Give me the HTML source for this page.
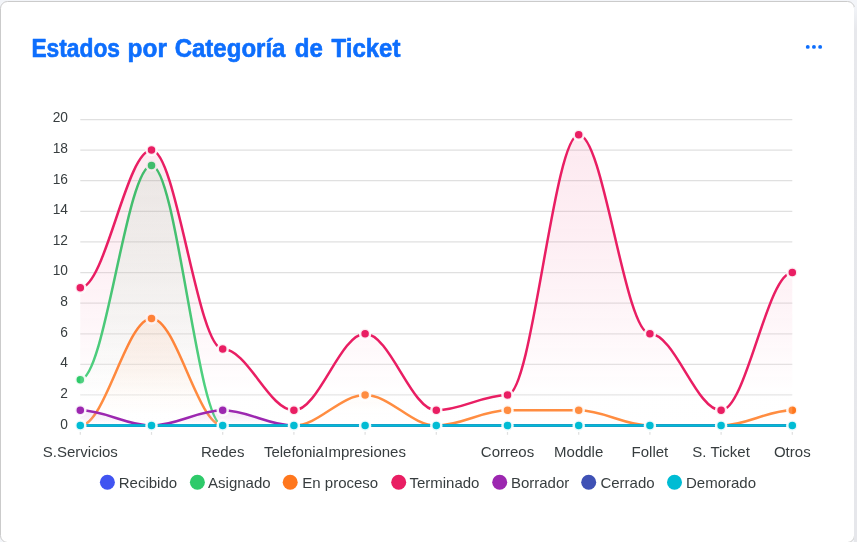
<!DOCTYPE html>
<html lang="es"><head><meta charset="utf-8"><title>Estados por Categoría de Ticket</title>
<style>
html,body{margin:0;padding:0;}
body{width:857px;height:542px;overflow:hidden;position:relative;background:#f3f5f9;font-family:"Liberation Sans",Arial,sans-serif;}
.rs{position:absolute;left:853.7px;top:7px;width:3.3px;height:535px;background:linear-gradient(#f1f3f7 0px,#e7e8ec 22px,#e6e7eb 100%);}
.card{position:absolute;left:0;top:0.9px;width:855px;height:542.6px;box-sizing:border-box;background:#fff;
border:1.25px solid #cbcbcb;border-radius:7.5px;}
</style></head><body>
<div class="card"></div>
<div class="rs"></div>
<svg width="857" height="542" viewBox="0 0 857 542" style="position:absolute;left:0;top:0;will-change:transform;font-family:'Liberation Sans',Arial,sans-serif"><defs><linearGradient id="g0" x1="0" y1="0" x2="0" y2="1"><stop offset="0" stop-color="rgba(65,84,241,0.3)" stop-opacity="0.3"/><stop offset="0.9" stop-color="rgba(255,255,255,0.4)" stop-opacity="0.4"/><stop offset="1" stop-color="rgba(255,255,255,0.4)" stop-opacity="0.4"/></linearGradient><linearGradient id="g1" x1="0" y1="0" x2="0" y2="1"><stop offset="0" stop-color="rgba(46,202,106,0.3)" stop-opacity="0.3"/><stop offset="0.9" stop-color="rgba(255,255,255,0.4)" stop-opacity="0.4"/><stop offset="1" stop-color="rgba(255,255,255,0.4)" stop-opacity="0.4"/></linearGradient><linearGradient id="g2" x1="0" y1="0" x2="0" y2="1"><stop offset="0" stop-color="rgba(255,119,29,0.3)" stop-opacity="0.3"/><stop offset="0.9" stop-color="rgba(255,255,255,0.4)" stop-opacity="0.4"/><stop offset="1" stop-color="rgba(255,255,255,0.4)" stop-opacity="0.4"/></linearGradient><linearGradient id="g3" x1="0" y1="0" x2="0" y2="1"><stop offset="0" stop-color="rgba(233,30,99,0.3)" stop-opacity="0.3"/><stop offset="0.9" stop-color="rgba(255,255,255,0.4)" stop-opacity="0.4"/><stop offset="1" stop-color="rgba(255,255,255,0.4)" stop-opacity="0.4"/></linearGradient><linearGradient id="g4" x1="0" y1="0" x2="0" y2="1"><stop offset="0" stop-color="rgba(156,39,176,0.3)" stop-opacity="0.3"/><stop offset="0.9" stop-color="rgba(255,255,255,0.4)" stop-opacity="0.4"/><stop offset="1" stop-color="rgba(255,255,255,0.4)" stop-opacity="0.4"/></linearGradient><linearGradient id="g5" x1="0" y1="0" x2="0" y2="1"><stop offset="0" stop-color="rgba(63,81,181,0.3)" stop-opacity="0.3"/><stop offset="0.9" stop-color="rgba(255,255,255,0.4)" stop-opacity="0.4"/><stop offset="1" stop-color="rgba(255,255,255,0.4)" stop-opacity="0.4"/></linearGradient><linearGradient id="g6" x1="0" y1="0" x2="0" y2="1"><stop offset="0" stop-color="rgba(0,188,212,0.3)" stop-opacity="0.3"/><stop offset="0.9" stop-color="rgba(255,255,255,0.4)" stop-opacity="0.4"/><stop offset="1" stop-color="rgba(255,255,255,0.4)" stop-opacity="0.4"/></linearGradient></defs><g stroke="#e0e0e0" stroke-width="1.25"><line x1="80.3" y1="425.6" x2="792.3" y2="425.6"/><line x1="80.3" y1="394.99" x2="792.3" y2="394.99"/><line x1="80.3" y1="364.38" x2="792.3" y2="364.38"/><line x1="80.3" y1="333.77" x2="792.3" y2="333.77"/><line x1="80.3" y1="303.16" x2="792.3" y2="303.16"/><line x1="80.3" y1="272.55" x2="792.3" y2="272.55"/><line x1="80.3" y1="241.94" x2="792.3" y2="241.94"/><line x1="80.3" y1="211.33" x2="792.3" y2="211.33"/><line x1="80.3" y1="180.72" x2="792.3" y2="180.72"/><line x1="80.3" y1="150.11" x2="792.3" y2="150.11"/><line x1="80.3" y1="119.5" x2="792.3" y2="119.5"/></g><g stroke="#e0e0e0" stroke-width="1.25"><line x1="80.3" y1="426.1" x2="80.3" y2="434.8"/><line x1="151.5" y1="426.1" x2="151.5" y2="434.8"/><line x1="222.7" y1="426.1" x2="222.7" y2="434.8"/><line x1="293.9" y1="426.1" x2="293.9" y2="434.8"/><line x1="365.1" y1="426.1" x2="365.1" y2="434.8"/><line x1="436.3" y1="426.1" x2="436.3" y2="434.8"/><line x1="507.5" y1="426.1" x2="507.5" y2="434.8"/><line x1="578.7" y1="426.1" x2="578.7" y2="434.8"/><line x1="649.9" y1="426.1" x2="649.9" y2="434.8"/><line x1="721.1" y1="426.1" x2="721.1" y2="434.8"/><line x1="792.3" y1="426.1" x2="792.3" y2="434.8"/></g><g><path d="M 80.3 425.6 C 105.22 425.6 126.58 425.6 151.5 425.6 C 176.42 425.6 197.78 425.6 222.7 425.6 C 247.62 425.6 268.98 425.6 293.9 425.6 C 318.82 425.6 340.18 425.6 365.1 425.6 C 390.02 425.6 411.38 425.6 436.3 425.6 C 461.22 425.6 482.58 425.6 507.5 425.6 C 532.42 425.6 553.78 425.6 578.7 425.6 C 603.62 425.6 624.98 425.6 649.9 425.6 C 674.82 425.6 696.18 425.6 721.1 425.6 C 746.02 425.6 767.38 425.6 792.3 425.6" fill="none" stroke="#4154f1" stroke-width="2.5"/><g fill="#4154f1" stroke="#fff" stroke-opacity="0.9" stroke-width="2.5"><circle cx="80.3" cy="425.6" r="5.0"/><circle cx="151.5" cy="425.6" r="5.0"/><circle cx="222.7" cy="425.6" r="5.0"/><circle cx="293.9" cy="425.6" r="5.0"/><circle cx="365.1" cy="425.6" r="5.0"/><circle cx="436.3" cy="425.6" r="5.0"/><circle cx="507.5" cy="425.6" r="5.0"/><circle cx="578.7" cy="425.6" r="5.0"/><circle cx="649.9" cy="425.6" r="5.0"/><circle cx="721.1" cy="425.6" r="5.0"/><circle cx="792.3" cy="425.6" r="5.0"/></g></g><g><path d="M 80.3 379.69 C 105.22 379.69 126.58 165.42 151.5 165.42 C 176.42 165.42 197.78 425.6 222.7 425.6 C 247.62 425.6 268.98 425.6 293.9 425.6 C 318.82 425.6 340.18 425.6 365.1 425.6 C 390.02 425.6 411.38 425.6 436.3 425.6 C 461.22 425.6 482.58 425.6 507.5 425.6 C 532.42 425.6 553.78 425.6 578.7 425.6 C 603.62 425.6 624.98 425.6 649.9 425.6 C 674.82 425.6 696.18 425.6 721.1 425.6 C 746.02 425.6 767.38 425.6 792.3 425.6 L 792.3 425.6 L 80.3 425.6 Z" fill="url(#g1)"/><path d="M 80.3 379.69 C 105.22 379.69 126.58 165.42 151.5 165.42 C 176.42 165.42 197.78 425.6 222.7 425.6 C 247.62 425.6 268.98 425.6 293.9 425.6 C 318.82 425.6 340.18 425.6 365.1 425.6 C 390.02 425.6 411.38 425.6 436.3 425.6 C 461.22 425.6 482.58 425.6 507.5 425.6 C 532.42 425.6 553.78 425.6 578.7 425.6 C 603.62 425.6 624.98 425.6 649.9 425.6 C 674.82 425.6 696.18 425.6 721.1 425.6 C 746.02 425.6 767.38 425.6 792.3 425.6" fill="none" stroke="#2eca6a" stroke-width="2.5"/><g fill="#2eca6a" stroke="#fff" stroke-opacity="0.9" stroke-width="2.5"><circle cx="80.3" cy="379.69" r="5.0"/><circle cx="151.5" cy="165.42" r="5.0"/><circle cx="222.7" cy="425.6" r="5.0"/><circle cx="293.9" cy="425.6" r="5.0"/><circle cx="365.1" cy="425.6" r="5.0"/><circle cx="436.3" cy="425.6" r="5.0"/><circle cx="507.5" cy="425.6" r="5.0"/><circle cx="578.7" cy="425.6" r="5.0"/><circle cx="649.9" cy="425.6" r="5.0"/><circle cx="721.1" cy="425.6" r="5.0"/><circle cx="792.3" cy="425.6" r="5.0"/></g></g><g><path d="M 80.3 425.6 C 105.22 425.6 126.58 318.47 151.5 318.47 C 176.42 318.47 197.78 425.6 222.7 425.6 C 247.62 425.6 268.98 425.6 293.9 425.6 C 318.82 425.6 340.18 394.99 365.1 394.99 C 390.02 394.99 411.38 425.6 436.3 425.6 C 461.22 425.6 482.58 410.3 507.5 410.3 C 532.42 410.3 553.78 410.3 578.7 410.3 C 603.62 410.3 624.98 425.6 649.9 425.6 C 674.82 425.6 696.18 425.6 721.1 425.6 C 746.02 425.6 767.38 410.3 792.3 410.3 L 792.3 425.6 L 80.3 425.6 Z" fill="url(#g2)"/><path d="M 80.3 425.6 C 105.22 425.6 126.58 318.47 151.5 318.47 C 176.42 318.47 197.78 425.6 222.7 425.6 C 247.62 425.6 268.98 425.6 293.9 425.6 C 318.82 425.6 340.18 394.99 365.1 394.99 C 390.02 394.99 411.38 425.6 436.3 425.6 C 461.22 425.6 482.58 410.3 507.5 410.3 C 532.42 410.3 553.78 410.3 578.7 410.3 C 603.62 410.3 624.98 425.6 649.9 425.6 C 674.82 425.6 696.18 425.6 721.1 425.6 C 746.02 425.6 767.38 410.3 792.3 410.3" fill="none" stroke="#ff771d" stroke-width="2.5"/><g fill="#ff771d" stroke="#fff" stroke-opacity="0.9" stroke-width="2.5"><circle cx="80.3" cy="425.6" r="5.0"/><circle cx="151.5" cy="318.47" r="5.0"/><circle cx="222.7" cy="425.6" r="5.0"/><circle cx="293.9" cy="425.6" r="5.0"/><circle cx="365.1" cy="394.99" r="5.0"/><circle cx="436.3" cy="425.6" r="5.0"/><circle cx="507.5" cy="410.3" r="5.0"/><circle cx="578.7" cy="410.3" r="5.0"/><circle cx="649.9" cy="425.6" r="5.0"/><circle cx="721.1" cy="425.6" r="5.0"/><circle cx="792.3" cy="410.3" r="5.0"/></g></g><g><path d="M 80.3 287.86 C 105.22 287.86 126.58 150.11 151.5 150.11 C 176.42 150.11 197.78 349.08 222.7 349.08 C 247.62 349.08 268.98 410.3 293.9 410.3 C 318.82 410.3 340.18 333.77 365.1 333.77 C 390.02 333.77 411.38 410.3 436.3 410.3 C 461.22 410.3 482.58 394.99 507.5 394.99 C 532.42 394.99 553.78 134.81 578.7 134.81 C 603.62 134.81 624.98 333.77 649.9 333.77 C 674.82 333.77 696.18 410.3 721.1 410.3 C 746.02 410.3 767.38 272.55 792.3 272.55 L 792.3 425.6 L 80.3 425.6 Z" fill="url(#g3)"/><path d="M 80.3 287.86 C 105.22 287.86 126.58 150.11 151.5 150.11 C 176.42 150.11 197.78 349.08 222.7 349.08 C 247.62 349.08 268.98 410.3 293.9 410.3 C 318.82 410.3 340.18 333.77 365.1 333.77 C 390.02 333.77 411.38 410.3 436.3 410.3 C 461.22 410.3 482.58 394.99 507.5 394.99 C 532.42 394.99 553.78 134.81 578.7 134.81 C 603.62 134.81 624.98 333.77 649.9 333.77 C 674.82 333.77 696.18 410.3 721.1 410.3 C 746.02 410.3 767.38 272.55 792.3 272.55" fill="none" stroke="#E91E63" stroke-width="2.5"/><g fill="#E91E63" stroke="#fff" stroke-opacity="0.9" stroke-width="2.5"><circle cx="80.3" cy="287.86" r="5.0"/><circle cx="151.5" cy="150.11" r="5.0"/><circle cx="222.7" cy="349.08" r="5.0"/><circle cx="293.9" cy="410.3" r="5.0"/><circle cx="365.1" cy="333.77" r="5.0"/><circle cx="436.3" cy="410.3" r="5.0"/><circle cx="507.5" cy="394.99" r="5.0"/><circle cx="578.7" cy="134.81" r="5.0"/><circle cx="649.9" cy="333.77" r="5.0"/><circle cx="721.1" cy="410.3" r="5.0"/><circle cx="792.3" cy="272.55" r="5.0"/></g></g><g><path d="M 80.3 410.3 C 105.22 410.3 126.58 425.6 151.5 425.6 C 176.42 425.6 197.78 410.3 222.7 410.3 C 247.62 410.3 268.98 425.6 293.9 425.6 C 318.82 425.6 340.18 425.6 365.1 425.6 C 390.02 425.6 411.38 425.6 436.3 425.6 C 461.22 425.6 482.58 425.6 507.5 425.6 C 532.42 425.6 553.78 425.6 578.7 425.6 C 603.62 425.6 624.98 425.6 649.9 425.6 C 674.82 425.6 696.18 425.6 721.1 425.6 C 746.02 425.6 767.38 425.6 792.3 425.6 L 792.3 425.6 L 80.3 425.6 Z" fill="url(#g4)"/><path d="M 80.3 410.3 C 105.22 410.3 126.58 425.6 151.5 425.6 C 176.42 425.6 197.78 410.3 222.7 410.3 C 247.62 410.3 268.98 425.6 293.9 425.6 C 318.82 425.6 340.18 425.6 365.1 425.6 C 390.02 425.6 411.38 425.6 436.3 425.6 C 461.22 425.6 482.58 425.6 507.5 425.6 C 532.42 425.6 553.78 425.6 578.7 425.6 C 603.62 425.6 624.98 425.6 649.9 425.6 C 674.82 425.6 696.18 425.6 721.1 425.6 C 746.02 425.6 767.38 425.6 792.3 425.6" fill="none" stroke="#9C27B0" stroke-width="2.5"/><g fill="#9C27B0" stroke="#fff" stroke-opacity="0.9" stroke-width="2.5"><circle cx="80.3" cy="410.3" r="5.0"/><circle cx="151.5" cy="425.6" r="5.0"/><circle cx="222.7" cy="410.3" r="5.0"/><circle cx="293.9" cy="425.6" r="5.0"/><circle cx="365.1" cy="425.6" r="5.0"/><circle cx="436.3" cy="425.6" r="5.0"/><circle cx="507.5" cy="425.6" r="5.0"/><circle cx="578.7" cy="425.6" r="5.0"/><circle cx="649.9" cy="425.6" r="5.0"/><circle cx="721.1" cy="425.6" r="5.0"/><circle cx="792.3" cy="425.6" r="5.0"/></g></g><g><path d="M 80.3 425.6 C 105.22 425.6 126.58 425.6 151.5 425.6 C 176.42 425.6 197.78 425.6 222.7 425.6 C 247.62 425.6 268.98 425.6 293.9 425.6 C 318.82 425.6 340.18 425.6 365.1 425.6 C 390.02 425.6 411.38 425.6 436.3 425.6 C 461.22 425.6 482.58 425.6 507.5 425.6 C 532.42 425.6 553.78 425.6 578.7 425.6 C 603.62 425.6 624.98 425.6 649.9 425.6 C 674.82 425.6 696.18 425.6 721.1 425.6 C 746.02 425.6 767.38 425.6 792.3 425.6" fill="none" stroke="#3F51B5" stroke-width="2.5"/><g fill="#3F51B5" stroke="#fff" stroke-opacity="0.9" stroke-width="2.5"><circle cx="80.3" cy="425.6" r="5.0"/><circle cx="151.5" cy="425.6" r="5.0"/><circle cx="222.7" cy="425.6" r="5.0"/><circle cx="293.9" cy="425.6" r="5.0"/><circle cx="365.1" cy="425.6" r="5.0"/><circle cx="436.3" cy="425.6" r="5.0"/><circle cx="507.5" cy="425.6" r="5.0"/><circle cx="578.7" cy="425.6" r="5.0"/><circle cx="649.9" cy="425.6" r="5.0"/><circle cx="721.1" cy="425.6" r="5.0"/><circle cx="792.3" cy="425.6" r="5.0"/></g></g><g><path d="M 80.3 425.6 C 105.22 425.6 126.58 425.6 151.5 425.6 C 176.42 425.6 197.78 425.6 222.7 425.6 C 247.62 425.6 268.98 425.6 293.9 425.6 C 318.82 425.6 340.18 425.6 365.1 425.6 C 390.02 425.6 411.38 425.6 436.3 425.6 C 461.22 425.6 482.58 425.6 507.5 425.6 C 532.42 425.6 553.78 425.6 578.7 425.6 C 603.62 425.6 624.98 425.6 649.9 425.6 C 674.82 425.6 696.18 425.6 721.1 425.6 C 746.02 425.6 767.38 425.6 792.3 425.6" fill="none" stroke="#00BCD4" stroke-width="2.5"/><g fill="#00BCD4" stroke="#fff" stroke-opacity="0.9" stroke-width="2.5"><circle cx="80.3" cy="425.6" r="5.0"/><circle cx="151.5" cy="425.6" r="5.0"/><circle cx="222.7" cy="425.6" r="5.0"/><circle cx="293.9" cy="425.6" r="5.0"/><circle cx="365.1" cy="425.6" r="5.0"/><circle cx="436.3" cy="425.6" r="5.0"/><circle cx="507.5" cy="425.6" r="5.0"/><circle cx="578.7" cy="425.6" r="5.0"/><circle cx="649.9" cy="425.6" r="5.0"/><circle cx="721.1" cy="425.6" r="5.0"/><circle cx="792.3" cy="425.6" r="5.0"/></g></g><g font-size="13.75" fill="#373d3f" text-anchor="end"><text x="68" y="428.5">0</text><text x="68" y="397.89">2</text><text x="68" y="367.28">4</text><text x="68" y="336.67">6</text><text x="68" y="306.06">8</text><text x="68" y="275.45">10</text><text x="68" y="244.84">12</text><text x="68" y="214.23">14</text><text x="68" y="183.62">16</text><text x="68" y="153.01">18</text><text x="68" y="122.4">20</text></g><g font-size="15" fill="#373d3f" text-anchor="middle"><text x="80.3" y="456.5">S.Servicios</text><text x="222.7" y="456.5">Redes</text><text x="293.9" y="456.5">Telefonia</text><text x="365.1" y="456.5">Impresiones</text><text x="507.5" y="456.5">Correos</text><text x="578.7" y="456.5">Moddle</text><text x="649.9" y="456.5">Follet</text><text x="721.1" y="456.5">S. Ticket</text><text x="792.3" y="456.5">Otros</text></g><g font-size="15" fill="#373d3f"><circle cx="107.4" cy="482.3" r="7.5" fill="#4154f1"/><text x="118.75" y="487.6">Recibido</text><circle cx="197.4" cy="482.3" r="7.5" fill="#2eca6a"/><text x="208.1" y="487.6">Asignado</text><circle cx="290.2" cy="482.3" r="7.5" fill="#ff771d"/><text x="302.3" y="487.6">En proceso</text><circle cx="398.7" cy="482.3" r="7.5" fill="#E91E63"/><text x="409.4" y="487.6">Terminado</text><circle cx="499.7" cy="482.3" r="7.5" fill="#9C27B0"/><text x="510.9" y="487.6">Borrador</text><circle cx="588.7" cy="482.3" r="7.5" fill="#3F51B5"/><text x="600.4" y="487.6">Cerrado</text><circle cx="674.5" cy="482.3" r="7.5" fill="#00BCD4"/><text x="686" y="487.6">Demorado</text></g><g font-size="25" font-weight="bold" fill="#0d6efd" stroke="#0d6efd" stroke-width="0.6" stroke-linejoin="round"><text transform="translate(31.39 57) scale(0.9116 1)">Estados</text><text transform="translate(127.62 57) scale(0.9769 1)">por</text><text transform="translate(174.64 57) scale(0.9617 1)">Categoría</text><text transform="translate(294.84 57) scale(0.9643 1)">de</text><text transform="translate(331.5 57) scale(0.9611 1)">Ticket</text></g><g fill="#0d6efd"><circle cx="807.75" cy="46.9" r="1.95"/><circle cx="813.95" cy="46.9" r="1.95"/><circle cx="820.15" cy="46.9" r="1.95"/></g></svg>
</body></html>
